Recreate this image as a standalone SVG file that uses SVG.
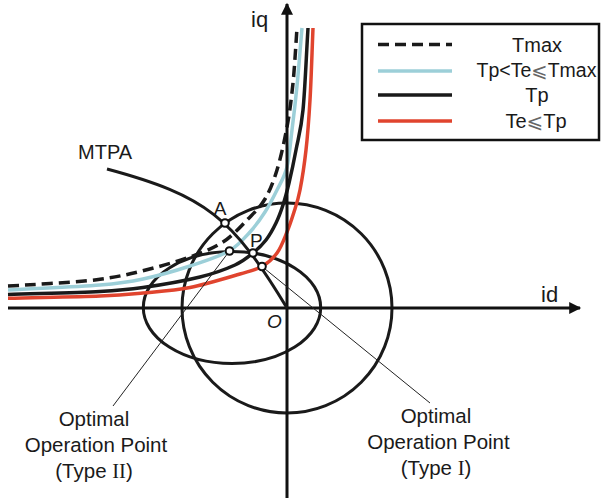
<svg xmlns="http://www.w3.org/2000/svg" width="602" height="498" viewBox="0 0 602 498">
  <defs>
    <marker id="arrow" viewBox="0 0 10 10" refX="9" refY="5" markerWidth="4.5" markerHeight="4" markerUnits="strokeWidth" orient="auto">
      <path d="M0,0 L10,5 L0,10 z" fill="#111"/>
    </marker>
  </defs>
  <style>
    .txt { font-family: "Liberation Sans", Arial, sans-serif; fill: #1a1a1a; }
    .contour { fill: none; stroke: #1a1a1a; stroke-width: 3; }
    .axis { fill: none; stroke: #111; stroke-width: 3; }
    .tq { fill: none; stroke-width: 3.5; stroke-linecap: butt; }
    .tmax { stroke: #1a1a1a; stroke-dasharray: 11 6; }
    .tmid { stroke: #9ccfd8; }
    .tp { stroke: #1a1a1a; }
    .tlow { stroke: #e0442e; }
    .leader { fill: none; stroke: #222; stroke-width: 1; }
    .pt { fill: #fff; stroke: #111; stroke-width: 2; }
    .note { font-size: 20.5px; text-anchor: middle; }
  </style>
  <rect width="602" height="498" fill="#fff"/>

  <!-- current limit circle and voltage limit ellipse -->
  <g id="limits">
    <circle class="contour" cx="287" cy="308" r="105"/>
    <ellipse class="contour" cx="232" cy="307.5" rx="88.7" ry="56"/>
  </g>

  <!-- constant-torque curves -->
  <g id="torque-curves">
    <path class="tq tmax" d="M8,286 C22,285.2 34.7,284.6 50,283.5 S84.7,281.4 100,279.3 S127,274.7 142,271 S176.5,261.8 190,257 S213.3,248.3 223,242 S241,226.2 248,219 S260.2,207.2 265,199 S273.3,182 277,170 S284.3,141.5 287,127 S291.3,99.5 293,83 S295.7,46.3 297,28"/>
    <path class="tq tmid" d="M8,290 C38.7,288.3 77.5,286.8 100,285 S128,282.2 143,279 S175.7,270.7 190,266 S219,256.7 229,251 S244,238.5 250,232 S260.5,219 265,212 S273.3,197.5 277,190 S284.5,177 287,167 S290.3,143.5 292,130 S295.3,103 297,86 S300.3,47.3 302,28"/>
    <path class="tq tp" d="M8,294.5 C38.7,293.5 77.5,292.7 100,291.5 S126.3,289.9 143,287.5 S184.7,280.75 200,277 S226.2,269 235,265 S247.8,257.2 253,253 S262.2,245 266,240 S273.2,228.8 276,223 S280.8,211.7 283,205 S286.8,192.2 289,183 S293.7,162.2 296,150 S301,130.3 303,110 S306.3,55.3 308,28"/>
    <path class="tq tlow" d="M8,298.3 C38.7,297.5 77.5,296.9 100,296 S128,294.4 143,293 S173.8,290.7 190,287.5 S228,277.5 240,274 S255.8,270 262,266.5 S272.8,258.75 277,253 S284.2,238.8 287,232 S291.8,219 294,212 S298,200.3 300,190 S304.3,165 306,150 S308.8,120.3 310,100 S312,52 313,28"/>
  </g>

  <!-- id / iq axes -->
  <g id="axes">
    <line class="axis" x1="8" y1="308" x2="580" y2="308" marker-end="url(#arrow)"/>
    <line class="axis" x1="287" y1="498" x2="287" y2="4" marker-end="url(#arrow)"/>
    <text class="txt" x="541" y="302" font-size="22">id</text>
    <text class="txt" x="251" y="27" font-size="22">iq</text>
    <text class="txt" x="267" y="328" font-size="19" font-style="italic">O</text>
  </g>

  <!-- MTPA trajectory -->
  <g id="mtpa">
    <path class="contour" d="M107,169 C207,196 232,217.25 287,308"/>
    <text class="txt" x="78" y="159" font-size="20">MTPA</text>
  </g>

  <!-- leader lines to the annotations -->
  <g id="leaders">
    <line class="leader" x1="229.5" y1="251" x2="113" y2="406"/>
    <line class="leader" x1="262" y1="266.5" x2="430" y2="403"/>
  </g>

  <!-- operating points -->
  <g id="point-A">
    <circle class="pt" cx="225" cy="223" r="3.8"/>
    <text class="txt" x="220" y="215" font-size="19" text-anchor="middle">A</text>
  </g>
  <g id="point-P">
    <circle class="pt" cx="253" cy="253" r="3.8"/>
    <text class="txt" x="250" y="247" font-size="19">P</text>
  </g>
  <g id="point-type2">
    <circle class="pt" cx="229.5" cy="251" r="3.8"/>
  </g>
  <g id="point-type1">
    <circle class="pt" cx="262" cy="266.5" r="3.8"/>
  </g>

  <!-- annotations -->
  <g id="label-type2">
    <text class="txt note" x="94" y="426">Optimal</text>
    <text class="txt note" x="96" y="452">Operation Point</text>
    <text class="txt note" x="94" y="478">(Type <tspan font-family="'Liberation Serif', serif">II</tspan>)</text>
  </g>
  <g id="label-type1">
    <text class="txt note" x="436" y="423">Optimal</text>
    <text class="txt note" x="438.5" y="449">Operation Point</text>
    <text class="txt note" x="436" y="475">(Type <tspan font-family="'Liberation Serif', serif">I</tspan>)</text>
  </g>

  <!-- legend -->
  <g id="legend">
    <rect x="362" y="24" width="237" height="116" fill="#fff" stroke="#111" stroke-width="2.5"/>
    <line class="tq tmax" x1="378" y1="44.5" x2="452" y2="44.5" stroke-dasharray="14 7" stroke-width="3"/>
    <line class="tq tmid" x1="378" y1="71" x2="452" y2="71" stroke-width="3"/>
    <line class="tq tp" x1="378" y1="95" x2="452" y2="95" stroke-width="3"/>
    <line class="tq tlow" x1="378" y1="121" x2="452" y2="121" stroke-width="3"/>
    <text class="txt" x="537" y="52" font-size="20" text-anchor="middle">Tmax</text>
    <text class="txt" x="536.5" y="77" font-size="19.5" text-anchor="middle">Tp&lt;Te<tspan font-family="'DejaVu Sans', sans-serif" fill="#666">⩽</tspan>Tmax</text>
    <text class="txt" x="537" y="102" font-size="20" text-anchor="middle">Tp</text>
    <text class="txt" x="536" y="128" font-size="20" text-anchor="middle">Te<tspan font-family="'DejaVu Sans', sans-serif" fill="#666">⩽</tspan>Tp</text>
  </g>
</svg>
